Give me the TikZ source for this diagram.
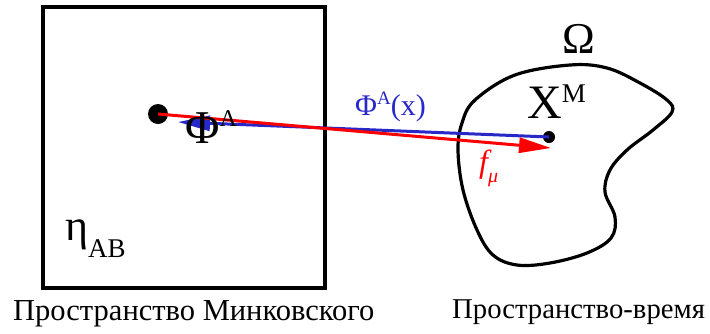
\documentclass[tikz,border=0pt]{standalone}
\usepackage{fontspec}
\setmainfont{Liberation Serif}
\usetikzlibrary{arrows.meta}
\definecolor{phiblue}{RGB}{40,40,200}
\definecolor{fred}{RGB}{250,0,0}
\newcommand{\fsz}[1]{\fontsize{#1}{#1}\selectfont}

\begin{document}
\begin{tikzpicture}[x=1pt, y=-1pt,
  frame/.style={draw, line width=3.2pt, minimum width=282pt,
                minimum height=281pt, inner sep=0pt},
  dot/.style={circle, fill=black, inner sep=0pt, minimum size=#1},
  lbl/.style={inner sep=0pt, anchor=base west},
  caption/.style={inner sep=0pt, anchor=base west, font=\fsz{30.5}},
  vec/.style={line width=3pt, -{Triangle[length=32pt, width=15pt]}}
]
  \useasboundingbox (0,0) rectangle (710,333);

  % Minkowski space
  \node[frame] (mink) at (184,147.5) {};
  \node[dot=20pt] (phi0) at (158,114) {};
  \node[lbl] (eta) at (65,240) {\fsz{44}η\raisebox{-17pt}{\fsz{27}AB}};

  % space-time region
  \draw[line width=3.2pt] plot[smooth cycle, tension=0.6] coordinates {
    (570,65) (607,68) (640,83) (667,100) (672,112) (653,130) (627,150)
    (610,170) (605,192) (615,217) (611,238) (587,253) (550,263) (517,265)
    (493,255) (477,230) (463,190) (458,150) (462,123) (475,100) (515,75)};
  \node[dot=12pt] (xm) at (549,137) {};
  \node[inner sep=0pt, anchor=base] (omega) at (579,53) {\fsz{44}Ω};
  \node[lbl] (xlab) at (527,118) {\fsz{48}X\raisebox{16pt}{\fsz{27}M}};

  % maps
  \coordinate (phitip) at (178,122);
  \coordinate (ftip) at (551,148);
  \draw[vec, phiblue] (xm.center) -- (phitip);
  \draw[vec, fred] (phi0.center) -- (ftip);

  \node[lbl] (philab) at (185,143) {\fsz{47}Φ\raisebox{17pt}{\fsz{24}A}};
  \node[lbl, text=phiblue] (phix) at (355,115) {\fsz{30}Φ\raisebox{11pt}{\fsz{19}A}(x)};
  \node[lbl, text=fred] (flab) at (479,172) {\fsz{32}\itshape f\raisebox{-10pt}{\fsz{20}μ}};

  \node[caption] (capl) at (13,320) {Пространство Минковского};
  \node[caption, font=\fsz{28.7}] (capr) at (452,318) {Пространство-время};
\end{tikzpicture}
\end{document}
